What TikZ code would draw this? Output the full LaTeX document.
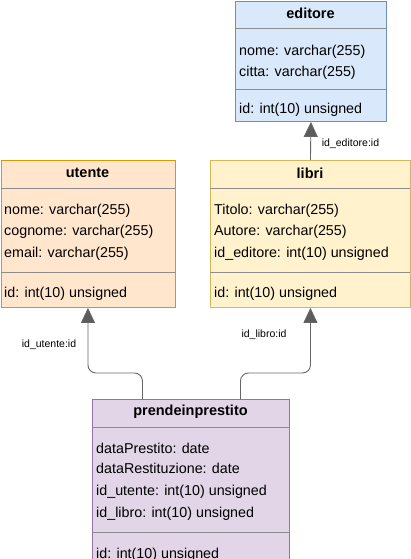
\documentclass[tikz,border=0pt]{standalone}
\usepackage{fontspec}
\setmainfont{Liberation Sans}
\usetikzlibrary{arrows.meta}
\definecolor{edfill}{HTML}{DAE8FC}\definecolor{eddraw}{HTML}{6C8EBF}
\definecolor{utfill}{HTML}{FFE6CC}\definecolor{utdraw}{HTML}{D79B00}
\definecolor{lifill}{HTML}{FFF2CC}\definecolor{lidraw}{HTML}{D6B656}
\definecolor{prfill}{HTML}{E1D5E7}\definecolor{prdraw}{HTML}{9673A6}
\definecolor{sepcol}{HTML}{8C8C8C}
\definecolor{linkcol}{HTML}{666666}
\tikzset{
  tablebox/.style={draw=#1, line width=0.9pt, anchor=north west, inner sep=0pt},
  sepline/.style={draw=sepcol, line width=0.9pt},
  field/.style={anchor=base west, inner sep=0pt, font=\fontsize{14.3}{17}\selectfont},
  title/.style={inner sep=0pt, font=\fontsize{14.5}{17}\selectfont\bfseries},
  link/.style={draw=linkcol, line width=0.9pt, rounded corners=8pt, -{Triangle[length=15pt,width=14pt,fill=linkcol!90!black]}},
  linklabel/.style={inner sep=0pt, font=\fontsize{10.5}{12}\selectfont}
}
\begin{document}
\begin{tikzpicture}[x=1pt,y=-1pt]
\useasboundingbox (0,0) rectangle (411,559);
% editore
\node[tablebox=eddraw, fill=edfill, minimum width=151pt, minimum height=120pt] (editore) at (235,1) {};
\draw[sepline] (235,28.5) -- (386,28.5);
\draw[sepline] (235,89) -- (386,89);
\node[title] (editoreT) at (310.5,13.5) {editore};
\node[field] (ed1) at (239,55.3) {nome: varchar(255)};
\node[field] (ed2) at (239,76.3) {citta: varchar(255)};
\node[field] (ed3) at (239,113.3) {id: int(10) unsigned};
% utente
\node[tablebox=utdraw, fill=utfill, minimum width=174pt, minimum height=147pt] (utente) at (0.5,160) {};
\draw[sepline] (0.5,188) -- (174.5,188);
\draw[sepline] (0.5,272) -- (174.5,272);
\node[title] (utenteT) at (87.5,172.5) {utente};
\node[field] (ut1) at (4,214.5) {nome: varchar(255)};
\node[field] (ut2) at (4,235.3) {cognome: varchar(255)};
\node[field] (ut3) at (4,257) {email: varchar(255)};
\node[field] (ut4) at (4,297) {id: int(10) unsigned};
% libri
\node[tablebox=lidraw, fill=lifill, minimum width=200pt, minimum height=147pt] (libri) at (210,160) {};
\draw[sepline] (210,188) -- (410,188);
\draw[sepline] (210,272) -- (410,272);
\node[title] (libriT) at (310,173) {libri};
\node[field] (li1) at (214,214.5) {Titolo: varchar(255)};
\node[field] (li2) at (214,235.3) {Autore: varchar(255)};
\node[field] (li3) at (214,257) {id\_editore: int(10) unsigned};
\node[field] (li4) at (214,297) {id: int(10) unsigned};
% prendeinprestito
\node[tablebox=prdraw, fill=prfill, minimum width=197pt, minimum height=175pt] (prend) at (92,399) {};
\draw[sepline] (92,427) -- (289,427);
\draw[sepline] (92,532) -- (289,532);
\node[title] (prendT) at (190.5,411.7) {prendeinprestito};
\node[field] (pr1) at (96,453.6) {dataPrestito: date};
\node[field] (pr2) at (96,473.6) {dataRestituzione: date};
\node[field] (pr3) at (96,495.3) {id\_utente: int(10) unsigned};
\node[field] (pr4) at (96,517) {id\_libro: int(10) unsigned};
\node[field] (pr5) at (96,558.6) {id: int(10) unsigned};
% connectors
\draw[link] (libri.north) -- (editore.south);
\draw[link] ([xshift=-48.5pt]prend.north) |- (115,373) -| (utente.south);
\draw[link] ([xshift=49.5pt]prend.north) |- (275,373) -| (libri.south);
\node[linklabel] (l1) at (350.5,144) {id\_editore:id};
\node[linklabel] (l2) at (49,344.5) {id\_utente:id};
\node[linklabel] (l3) at (264,334.5) {id\_libro:id};
\end{tikzpicture}
\end{document}
